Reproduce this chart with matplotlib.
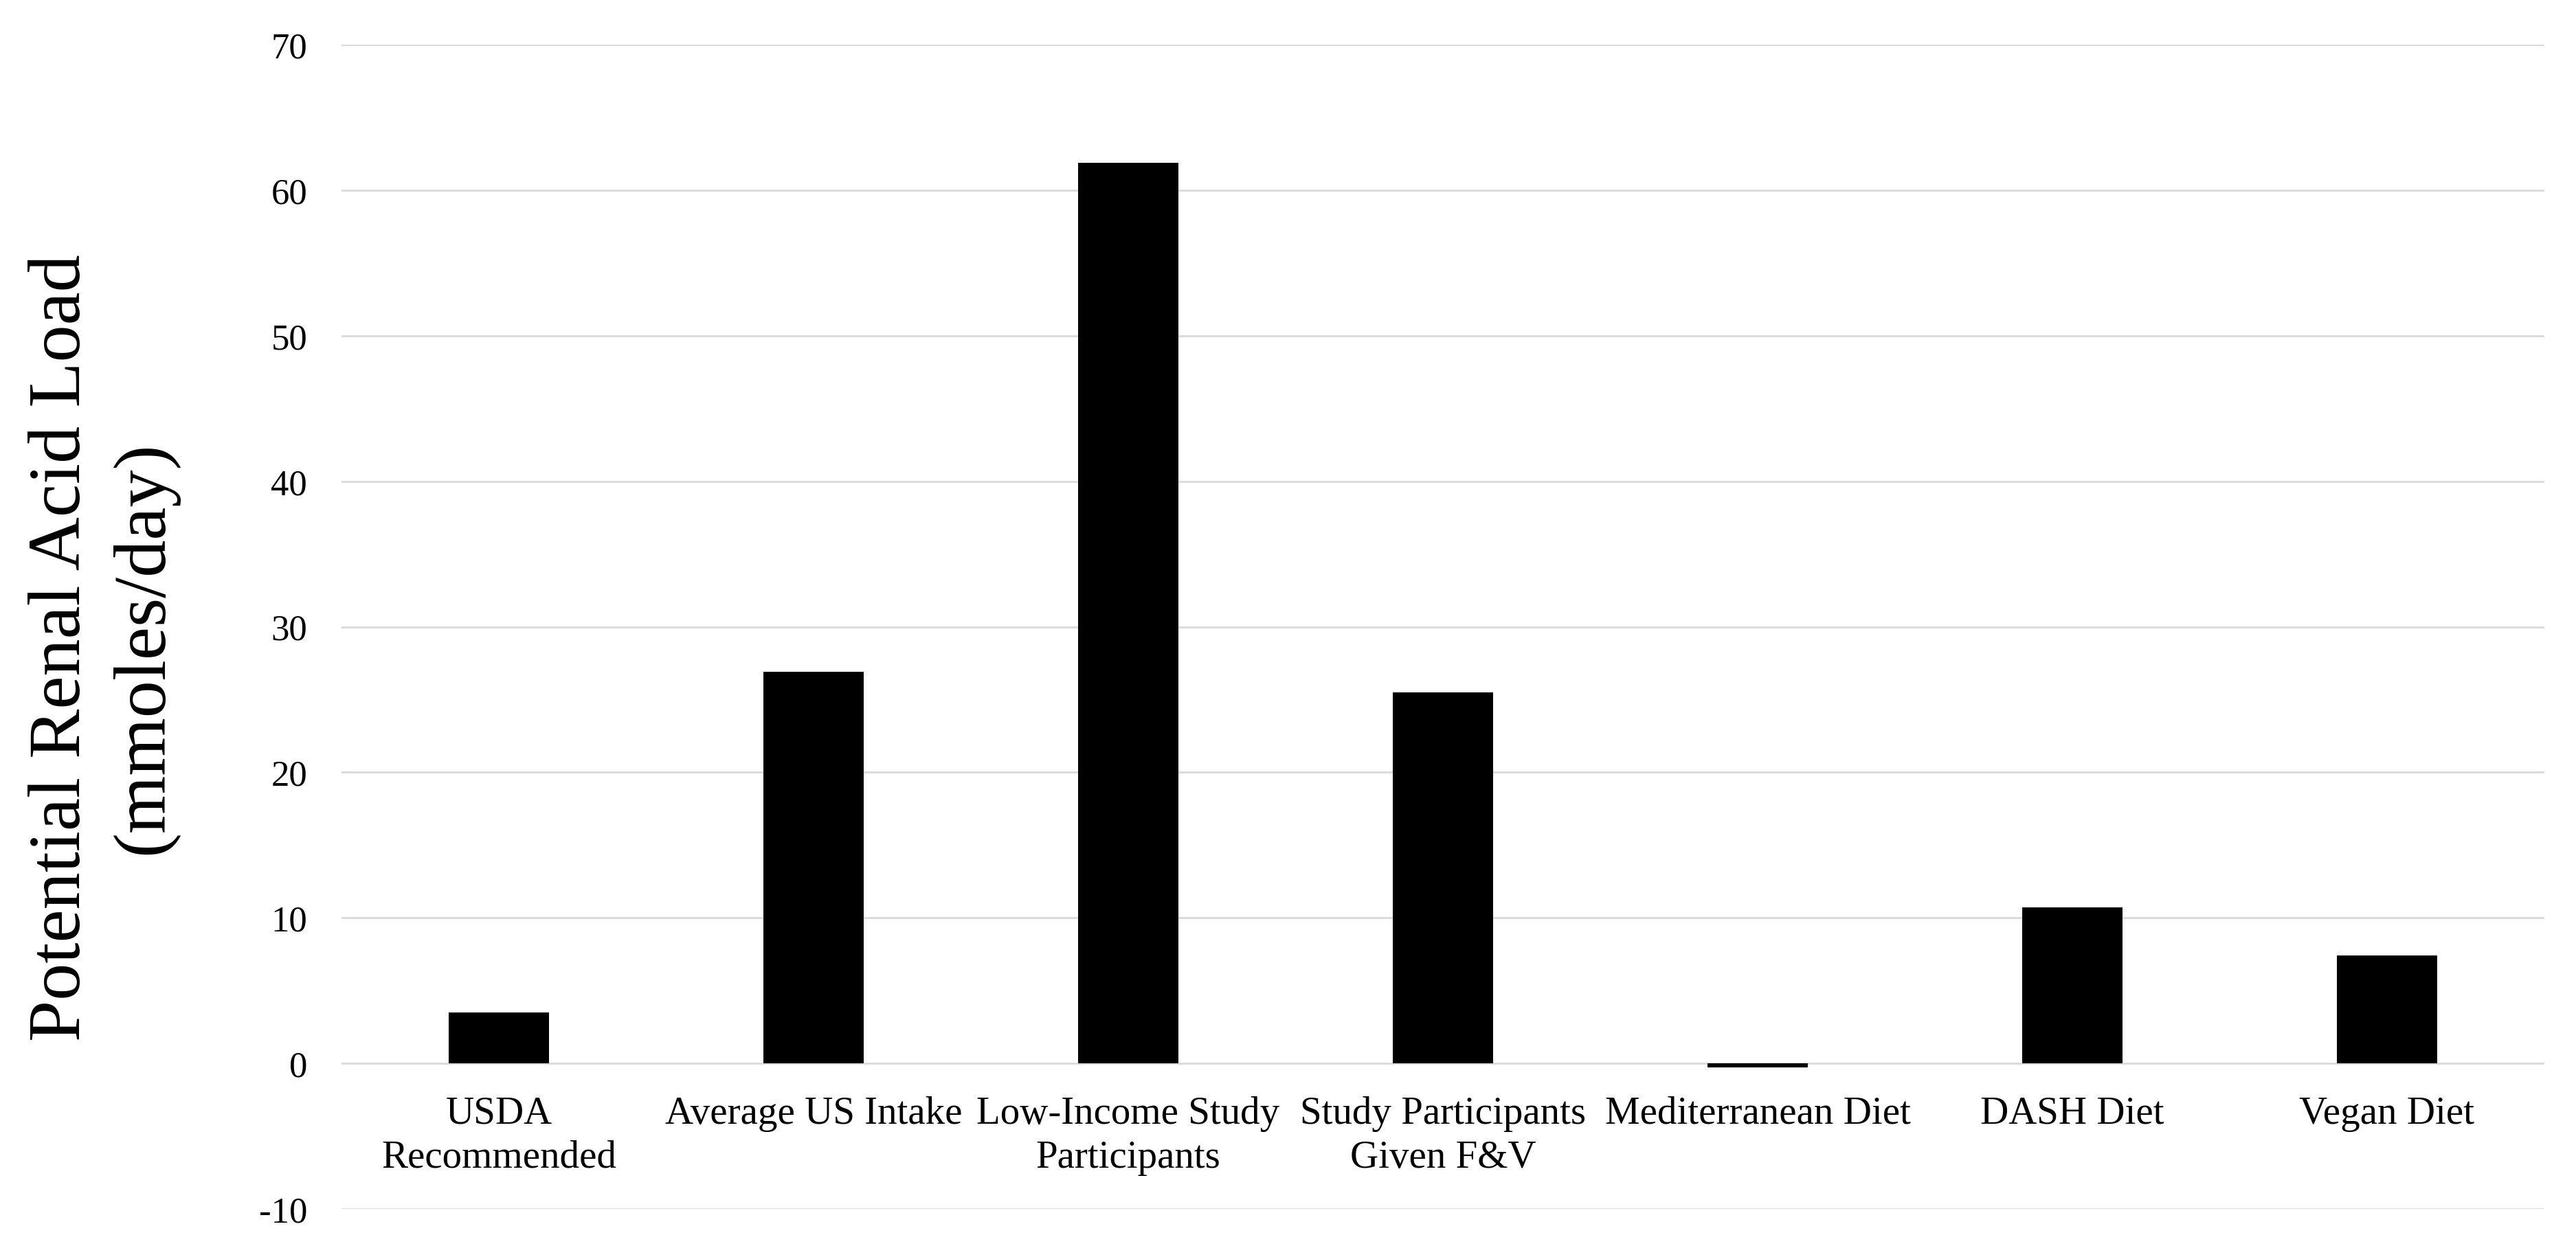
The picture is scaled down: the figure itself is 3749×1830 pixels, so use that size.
import matplotlib
matplotlib.use("Agg")
import matplotlib.pyplot as plt

categories = ["USDA\nRecommended", "Average US Intake", "Low-Income Study\nParticipants",
              "Study Participants\nGiven F&V", "Mediterranean Diet", "DASH Diet", "Vegan Diet"]
values = [3.5, 26.9, 61.9, 25.5, -0.3, 10.7, 7.4]
yticks = [-10, 0, 10, 20, 30, 40, 50, 60, 70]
ylabel = "Potential Renal Acid Load\n(mmoles/day)"

plt.rcParams['font.family'] = ['Liberation Serif', 'DejaVu Serif']
plt.rcParams['axes.unicode_minus'] = False

W, H, DPI = 3749, 1831, 100
fig = plt.figure(figsize=(W / DPI, H / DPI), dpi=DPI)
ax = fig.add_axes([497 / W, 1 - 1761 / H, (3703 - 497) / W, (1761 - 66) / H])

x = list(range(len(categories)))
ax.bar(x, values, width=0.32, color='black', zorder=3)

ax.set_xlim(-0.5, len(categories) - 0.5)
ax.set_ylim(-10, 70)
ax.set_yticks(yticks)
ax.set_yticklabels([str(t) for t in yticks], fontsize=38)
ax.tick_params(axis='y', length=0, pad=36)
ax.set_xticks([])
ax.yaxis.grid(True, color='#d9d9d9', linewidth=2.0, zorder=0)
for s in ax.spines.values():
    s.set_visible(False)

for i, lab in enumerate(categories):
    ax.annotate(lab, xy=(i, 0), xytext=(0, -33.5), textcoords='offset points',
                ha='center', va='top', fontsize=41, linespacing=1.3, annotation_clip=False)

fig.text(150 / W, 1 - 943 / H, ylabel, rotation=90, ha='center', va='center',
         fontsize=78, linespacing=1.3)

fig.savefig("out.png", dpi=DPI, facecolor='white')
